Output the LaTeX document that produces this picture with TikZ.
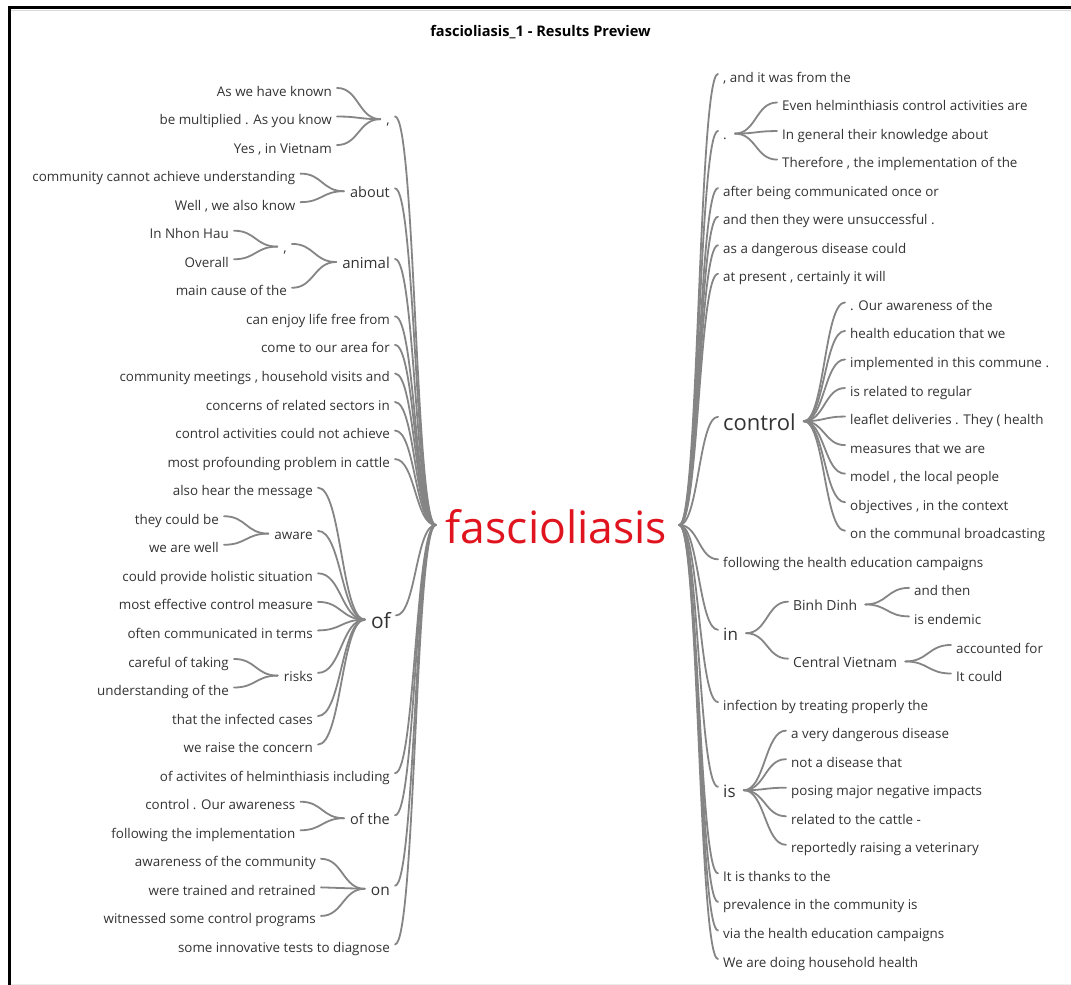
\documentclass[tikz,border=0pt]{standalone}
\usepackage{fontspec}
\setmainfont{Open Sans}
\usetikzlibrary{calc}
\definecolor{wordgray}{HTML}{333333}
\definecolor{linkgray}{HTML}{858585}
\definecolor{rootred}{HTML}{E0141E}

\newcommand\fsz[1]{\fontsize{#1}{#1}\selectfont}
% row baselines, left and right columns
\newcommand\yl[1]{96+28.55*(#1-1)}
\newcommand\yr[1]{82+28.55*(#1-1)}
\newcommand\lf{13.4}

% left column word: name, size, right x, baseline, text
\newcommand\Lw[5]{%
  \node[word, font={\fsz{#2}}, anchor=base east] (#1) at (#3,#4) {#5};
  \coordinate (#1-p) at ($(#1.base east)+(5,{-0.6*#2})$);
  \coordinate (#1-c) at ($(#1.base west)+(-6,{-0.4*#2})$);
}
% right column word: name, size, left x, baseline, text
\newcommand\Rw[5]{%
  \node[word, font={\fsz{#2}}, anchor=base west] (#1) at (#3,#4) {#5};
  \coordinate (#1-p) at ($(#1.base west)+(-5,{-0.6*#2})$);
  \coordinate (#1-c) at ($(#1.base east)+(8,{-0.4*#2})$);
}
% horizontal s-curve between two attach points
\newcommand\wlink[2]{\draw[conn] let \p1=(#1), \p2=(#2) in
  (\p1) .. controls ({0.5*\x1+0.5*\x2},\y1) and ({0.5*\x1+0.5*\x2},\y2) .. (\p2);}

\begin{document}
\begin{tikzpicture}[x=1pt,y=-1pt,
  word/.style={inner sep=0pt, text=wordgray},
  conn/.style={draw=linkgray, line width=1.8pt, line cap=round}]
\useasboundingbox (0,0) rectangle (1071,985);
\fill[white] (0,0) rectangle (1071,985);

% window frame
\draw[gray!30, line width=0.8pt] (11,10) -- (1071,10);
\draw[line width=3pt] (8,7.5) -- (1071,7.5);
\draw[line width=3pt] (9.5,6) -- (9.5,985);
\draw[gray!15, line width=1pt] (11,984) -- (1071,984);

\node[inner sep=0pt, font={\bfseries\fsz{14.6}}, anchor=base] (title) at (540.5,36) {fascioliasis\_1 - Results Preview};

% root word
\node[inner sep=0pt, text=rootred, font={\fsz{44.5}}, anchor=base] (root) at (556.5,543) {fascioliasis};
\coordinate (root-l) at ($(root.base west)+(-10,-18)$);
\coordinate (root-r) at ($(root.base east)+(12,-18)$);

% ---------------- left column ----------------
\Lw{lc1}{13.5}{390}{{\yl{2}}}{,}
\Lw{l1}{\lf}{332}{{\yl{1}}}{As we have known}
\Lw{l2}{\lf}{332}{{\yl{2}}}{be multiplied . As you know}
\Lw{l3}{\lf}{332}{{\yl{3}}}{Yes , in Vietnam}
\Lw{about}{14.5}{390}{197}{about}
\Lw{l4}{\lf}{295.5}{{\yl{4}}}{community cannot achieve understanding}
\Lw{l5}{\lf}{295.5}{{\yl{5}}}{Well , we also know}
\Lw{animal}{15}{390}{268}{animal}
\Lw{lc2}{13.5}{287}{252}{,}
\Lw{l6}{\lf}{229}{{\yl{6}}}{In Nhon Hau}
\Lw{l7}{\lf}{229}{{\yl{7}}}{Overall}
\Lw{l8}{\lf}{287}{{\yl{8}}}{main cause of the}
\Lw{l9}{\lf}{390}{{\yl{9}}}{can enjoy life free from}
\Lw{l10}{\lf}{390}{{\yl{10}}}{come to our area for}
\Lw{l11}{\lf}{390}{{\yl{11}}}{community meetings , household visits and}
\Lw{l12}{\lf}{390}{{\yl{12}}}{concerns of related sectors in}
\Lw{l13}{\lf}{390}{{\yl{13}}}{control activities could not achieve}
\Lw{l14}{\lf}{390}{{\yl{14}}}{most profounding problem in cattle}
\Lw{wof}{21}{391}{628}{of}
\Lw{l15}{\lf}{313}{{\yl{15}}}{also hear the message}
\Lw{aware}{13.5}{313}{539}{aware}
\Lw{l16}{\lf}{219}{{\yl{16}}}{they could be}
\Lw{l17}{\lf}{219}{{\yl{17}}}{we are well}
\Lw{l18}{\lf}{313}{{\yl{18}}}{could provide holistic situation}
\Lw{l19}{\lf}{313}{{\yl{19}}}{most effective control measure}
\Lw{l20}{\lf}{313}{{\yl{20}}}{often communicated in terms}
\Lw{risks}{13.5}{313}{681}{risks}
\Lw{l21}{\lf}{229}{{\yl{21}}}{careful of taking}
\Lw{l22}{\lf}{229}{{\yl{22}}}{understanding of the}
\Lw{l23}{\lf}{313}{{\yl{23}}}{that the infected cases}
\Lw{l24}{\lf}{313}{{\yl{24}}}{we raise the concern}
\Lw{l25}{\lf}{390}{{\yl{25}}}{of activites of helminthiasis including}
\Lw{ofthe}{14.5}{390}{824}{of the}
\Lw{l26}{\lf}{295.5}{{\yl{26}}}{control . Our awareness}
\Lw{l27}{\lf}{295.5}{{\yl{27}}}{following the implementation}
\Lw{won}{15.5}{390}{895}{on}
\Lw{l28}{\lf}{316}{{\yl{28}}}{awareness of the community}
\Lw{l29}{\lf}{316}{{\yl{29}}}{were trained and retrained}
\Lw{l30}{\lf}{316}{{\yl{30}}}{witnessed some control programs}
\Lw{l31}{\lf}{390}{{\yl{31}}}{some innovative tests to diagnose}

% ---------------- right column ----------------
\Rw{r1}{\lf}{723}{{\yr{1}}}{, and it was from the}
\Rw{rdot}{13.5}{723}{139}{.}
\Rw{r2}{\lf}{782}{{\yr{2}}}{Even helminthiasis control activities are}
\Rw{r3}{\lf}{782}{{\yr{3}}}{In general their knowledge about}
\Rw{r4}{\lf}{782}{{\yr{4}}}{Therefore , the implementation of the}
\Rw{r5}{\lf}{723}{{\yr{5}}}{after being communicated once or}
\Rw{r6}{\lf}{723}{{\yr{6}}}{and then they were unsuccessful .}
\Rw{r7}{\lf}{723}{{\yr{7}}}{as a dangerous disease could}
\Rw{r8}{\lf}{723}{{\yr{8}}}{at present , certainly it will}
\Rw{control}{22}{723}{430}{control}
\Rw{r9}{\lf}{850}{{\yr{9}}}{. Our awareness of the}
\Rw{r10}{\lf}{850}{{\yr{10}}}{health education that we}
\Rw{r11}{\lf}{850}{{\yr{11}}}{implemented in this commune .}
\Rw{r12}{\lf}{850}{{\yr{12}}}{is related to regular}
\Rw{r13}{\lf}{850}{{\yr{13}}}{leaflet deliveries . They ( health}
\Rw{r14}{\lf}{850}{{\yr{14}}}{measures that we are}
\Rw{r15}{\lf}{850}{{\yr{15}}}{model , the local people}
\Rw{r16}{\lf}{850}{{\yr{16}}}{objectives , in the context}
\Rw{r17}{\lf}{850}{{\yr{17}}}{on the communal broadcasting}
\Rw{r18}{\lf}{723}{{\yr{18}}}{following the health education campaigns}
\Rw{win}{17}{723}{640}{in}
\Rw{binh}{13.9}{793}{610}{Binh Dinh}
\Rw{r19}{\lf}{914}{{\yr{19}}}{and then}
\Rw{r20}{\lf}{914}{{\yr{20}}}{is endemic}
\Rw{central}{13.9}{793}{667}{Central Vietnam}
\Rw{r21}{\lf}{956}{{\yr{21}}}{accounted for}
\Rw{r22}{\lf}{956}{{\yr{22}}}{It could}
\Rw{r23}{\lf}{723}{{\yr{23}}}{infection by treating properly the}
\Rw{wis}{17}{723}{797}{is}
\Rw{r24}{\lf}{791}{{\yr{24}}}{a very dangerous disease}
\Rw{r25}{\lf}{791}{{\yr{25}}}{not a disease that}
\Rw{r26}{\lf}{791}{{\yr{26}}}{posing major negative impacts}
\Rw{r27}{\lf}{791}{{\yr{27}}}{related to the cattle -}
\Rw{r28}{\lf}{791}{{\yr{28}}}{reportedly raising a veterinary}
\Rw{r29}{\lf}{723}{{\yr{29}}}{It is thanks to the}
\Rw{r30}{\lf}{723}{{\yr{30}}}{prevalence in the community is}
\Rw{r31}{\lf}{723}{{\yr{31}}}{via the health education campaigns}
\Rw{r32}{\lf}{723}{{\yr{32}}}{We are doing household health}

% ---------------- connectors ----------------
\foreach \w in {lc1,about,animal,l9,l10,l11,l12,l13,l14,wof,l25,ofthe,won,l31}
  {\wlink{root-l}{\w-p}}
\foreach \w in {l1,l2,l3} {\wlink{lc1-c}{\w-p}}
\foreach \w in {l4,l5} {\wlink{about-c}{\w-p}}
\foreach \w in {lc2,l8} {\wlink{animal-c}{\w-p}}
\foreach \w in {l6,l7} {\wlink{lc2-c}{\w-p}}
\foreach \w in {l15,aware,l18,l19,l20,risks,l23,l24} {\wlink{wof-c}{\w-p}}
\foreach \w in {l16,l17} {\wlink{aware-c}{\w-p}}
\foreach \w in {l21,l22} {\wlink{risks-c}{\w-p}}
\foreach \w in {l26,l27} {\wlink{ofthe-c}{\w-p}}
\foreach \w in {l28,l29,l30} {\wlink{won-c}{\w-p}}

\foreach \w in {r1,rdot,r5,r6,r7,r8,control,r18,win,r23,wis,r29,r30,r31,r32}
  {\wlink{root-r}{\w-p}}
\foreach \w in {r2,r3,r4} {\wlink{rdot-c}{\w-p}}
\foreach \w in {r9,r10,r11,r12,r13,r14,r15,r16,r17} {\wlink{control-c}{\w-p}}
\foreach \w in {binh,central} {\wlink{win-c}{\w-p}}
\foreach \w in {r19,r20} {\wlink{binh-c}{\w-p}}
\foreach \w in {r21,r22} {\wlink{central-c}{\w-p}}
\foreach \w in {r24,r25,r26,r27,r28} {\wlink{wis-c}{\w-p}}
\end{tikzpicture}
\end{document}
